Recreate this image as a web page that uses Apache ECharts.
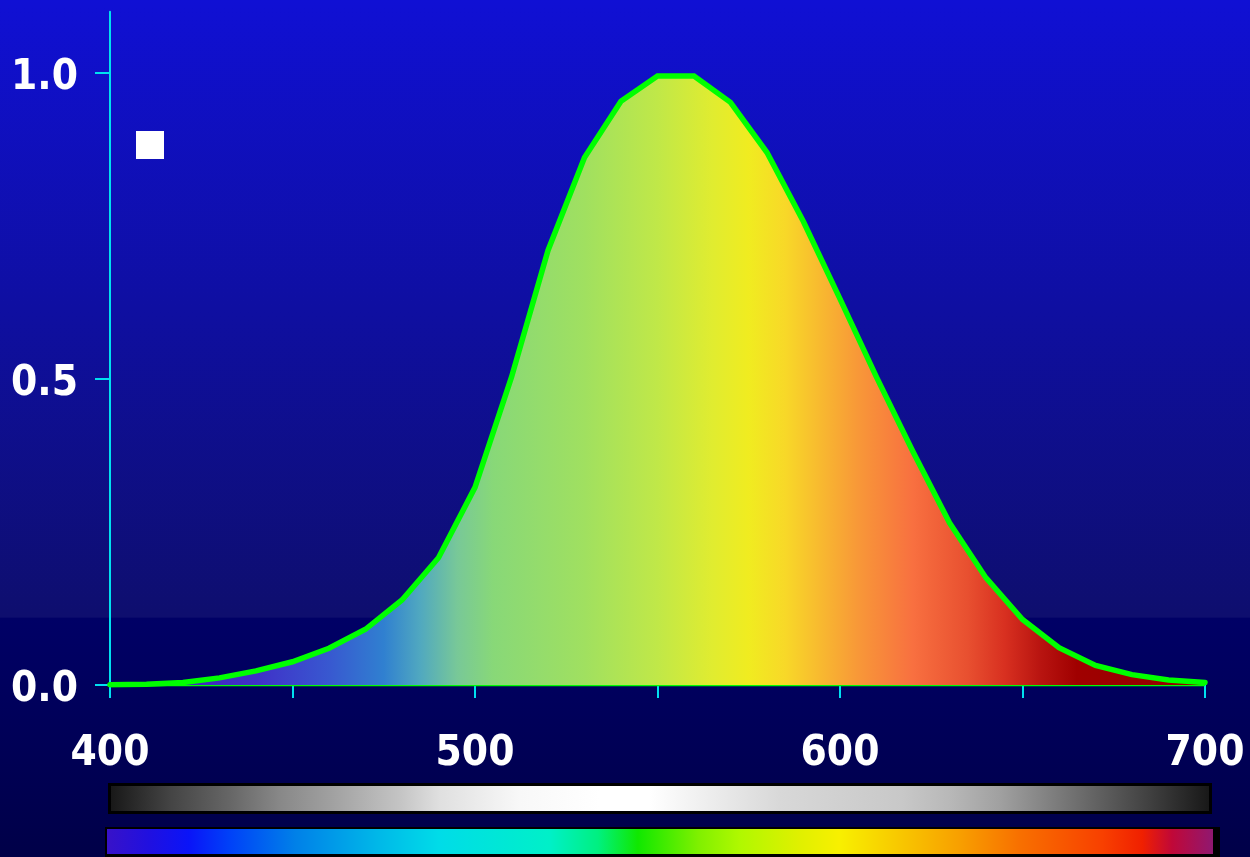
<!DOCTYPE html>
<html>
<head>
<meta charset="utf-8">
<script src="https://cdn.jsdelivr.net/npm/echarts@6/dist/echarts.min.js"></script>
<style>html,body{margin:0;padding:0;}#c{width:1250px;height:857px;}</style>
</head>
<body>
<div id="c"></div>
<script>
// Wavelength (nm)
const wavelengths = [400,410,420,430,440,450,460,470,480,490,500,510,520,530,540,550,560,570,580,590,600,610,620,630,640,650,660,670,680,690,700];
// Relative luminous efficiency
const efficiency = [0.0004,0.0012,0.004,0.0116,0.023,0.038,0.06,0.091,0.139,0.208,0.323,0.503,0.71,0.862,0.954,0.995,0.995,0.952,0.87,0.757,0.631,0.503,0.381,0.265,0.175,0.107,0.061,0.032,0.017,0.0082,0.0041];
const xTickValues = [400,450,500,550,600,650,700];
const xLabelValues = [400,500,600,700];
const yTickValues = [0,0.5,1.0];

const chart = echarts.init(document.getElementById('c'));
const G = echarts.graphic.LinearGradient;
const font = "'DejaVu Sans Condensed','DejaVu Sans',sans-serif";

const areaStops = [
  [0,'#4020b0'],[0.133,'#4030c8'],[0.2,'#3858d0'],[0.25,'#3080d0'],[0.283,'#50a8c0'],
  [0.317,'#78c898'],[0.35,'#88d878'],[0.433,'#a0e060'],[0.5,'#c0e848'],[0.55,'#e0ec30'],
  [0.583,'#f0ec20'],[0.617,'#f8d828'],[0.65,'#f8b830'],[0.683,'#f89838'],[0.733,'#f87040'],
  [0.783,'#e85030'],[0.817,'#d83020'],[0.85,'#b81410'],[0.883,'#a00000'],[1,'#900000']
].map(s=>({offset:s[0],color:s[1]}));

const grayStops = [
  [0,'#181818'],[0.054,'#444444'],[0.108,'#666666'],[0.154,'#888888'],[0.2,'#a0a0a0'],
  [0.263,'#c4c4c4'],[0.3,'#e0e0e0'],[0.372,'#f8f8f8'],[0.445,'#ffffff'],[0.49,'#ffffff'],
  [0.536,'#f0f0f0'],[0.609,'#d8d8d8'],[0.72,'#c8c8c8'],[0.764,'#b8b8b8'],[0.81,'#a0a0a0'],
  [0.855,'#808080'],[0.9,'#606060'],[0.946,'#404040'],[1,'#181818']
].map(s=>({offset:s[0],color:s[1]}));

const specStops = [
  [0,'#3812c8'],[0.038,'#2010e0'],[0.074,'#0a14f8'],[0.11,'#0040f8'],[0.17,'#0080e8'],
  [0.245,'#00b8e8'],[0.3,'#00dce8'],[0.4,'#00f0c8'],[0.444,'#00f080'],[0.48,'#10e800'],
  [0.535,'#80f000'],[0.572,'#b0f800'],[0.626,'#e0f000'],[0.662,'#f8f000'],[0.716,'#f8c800'],
  [0.77,'#f8a000'],[0.825,'#f87000'],[0.9,'#f84000'],[0.936,'#f02000'],[0.963,'#c00838'],[1,'#901870']
].map(s=>({offset:s[0],color:s[1]}));

const axisColor = '#00e0f0';

chart.setOption({
  animation: false,
  backgroundColor: new G(0,0,0,1,[
    {offset:0,color:'#1010d4'},{offset:0.72,color:'#0e0e6e'},
    {offset:0.7215,color:'#000066'},{offset:1,color:'#000048'}
  ]),
  grid: {left:110, right:45, top:11.8, bottom:172, containLabel:false},
  legend: {
    left:131, top:126, icon:'rect', itemWidth:28, itemHeight:28,
    data:[{name:'V(λ)', itemStyle:{color:'#ffffff', borderWidth:0}}],
    formatter: () => '', textStyle:{fontSize:1}, selectedMode:false
  },
  xAxis: {
    type:'value', min:400, max:700, interval:50,
    axisLine:{show:true, lineStyle:{color:axisColor, width:2}},
    axisTick:{show:true, length:13, lineStyle:{color:axisColor, width:2}},
    splitLine:{show:false},
    axisLabel:{
      color:'#ffffff', fontFamily:font, fontWeight:'bold', fontSize:42, margin:48,
      formatter: v => xLabelValues.includes(v) ? String(v) : ''
    }
  },
  yAxis: {
    type:'value', min:0, max:1.1,
    axisLine:{show:true, lineStyle:{color:axisColor, width:2}},
    axisTick:{show:true, length:15, customValues:yTickValues, lineStyle:{color:axisColor, width:2}},
    splitLine:{show:false},
    axisLabel:{
      color:'#ffffff', fontFamily:font, fontWeight:'bold', fontSize:42, margin:32,
      customValues:yTickValues,
      formatter: v => '{a|' + v.toFixed(1) + '}',
      rich:{a:{color:'#ffffff', fontFamily:font, fontWeight:'bold', fontSize:42, padding:[11,0,0,0]}}
    }
  },
  graphic: [
    {type:'rect', shape:{x:108,y:783,width:1104,height:31}, style:{fill:'#000000'}, silent:true},
    {type:'rect', shape:{x:111,y:786,width:1098,height:25}, style:{fill:new G(0,0,1,0,grayStops)}, silent:true},
    {type:'rect', shape:{x:105,y:827,width:1115,height:30}, style:{fill:'#000000'}, silent:true},
    {type:'rect', shape:{x:107,y:829,width:1106,height:25}, style:{fill:new G(0,0,1,0,specStops)}, silent:true}
  ],
  series: [
    {
      name:'baseline', type:'line', silent:true, showSymbol:false, z:3,
      data:[[wavelengths[0],0],[wavelengths[wavelengths.length-1],0]],
      lineStyle:{color:'#00ff00', width:3}
    },
    {
      name:'V(λ)', type:'line', showSymbol:false, z:4,
      data: wavelengths.map((w,i)=>[w, efficiency[i]]),
      lineStyle:{color:'#00ff00', width:5.5, cap:'round', join:'miter'},
      itemStyle:{color:'#00ff00'},
      areaStyle:{color:new G(0,0,1,0,areaStops), opacity:1}
    }
  ]
});
</script>
</body>
</html>
